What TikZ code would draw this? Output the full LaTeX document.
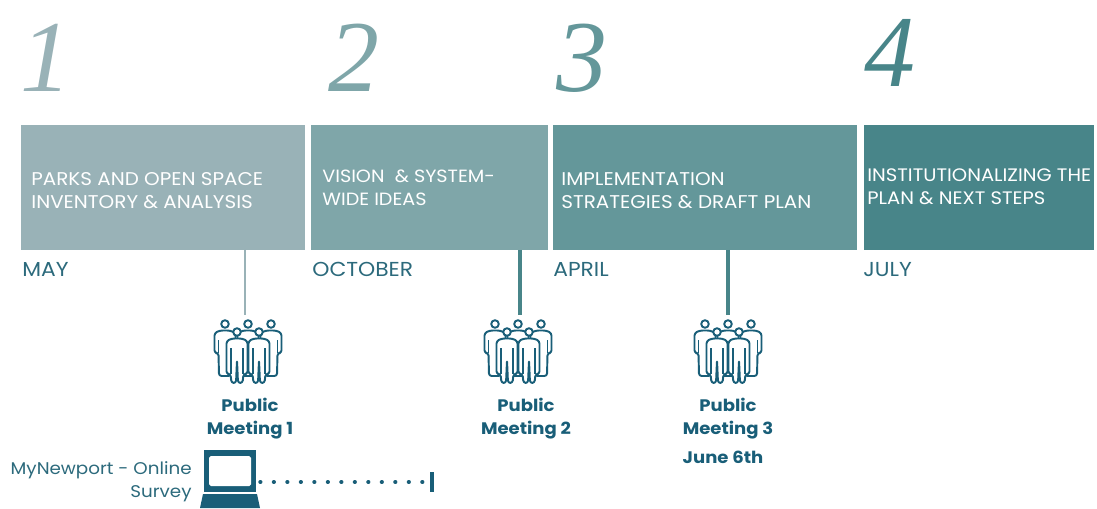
\documentclass[tikz,border=0pt]{standalone}
\usepackage{fontspec}
\setmainfont{Poppins}[FakeStretch=1.08]
\newfontfamily\numfont{Liberation Serif}
\definecolor{stageA}{HTML}{99B2B7}
\definecolor{stageB}{HTML}{7FA6A9}
\definecolor{stageC}{HTML}{64979A}
\definecolor{stageD}{HTML}{488589}
\definecolor{inkBlue}{HTML}{195E78}
\definecolor{monthBlue}{HTML}{2C6A7C}
\tikzset{
	stagebox/.style={rectangle, anchor=north west, inner sep=0pt, outer sep=0pt, minimum height=2.5cm},
	stagelabel/.style={anchor=west, inner sep=0pt, align=left, text=white, font=\fontsize{10.5}{13.1}\selectfont},
	stagenum/.style={anchor=base west, inner sep=0pt, font=\numfont\itshape\fontsize{58}{58}\selectfont},
	monthlabel/.style={anchor=base west, inner sep=0pt, text=monthBlue, font=\fontsize{11.5}{13}\selectfont},
	meetinglabel/.style={anchor=center, inner sep=0pt, align=center, text=inkBlue, font=\bfseries\fontsize{9.5}{13.1}\selectfont},
	meetingline/.style={draw=stageD, line width=2.3pt},
	iconline/.style={draw=inkBlue, line width=1.1pt, line join=round, fill=white},
	frontperson/.pic={
		\path[iconline] (0,0) circle (3.8);
		\path[iconline, rounded corners=1.5pt] (-5,6.5) -- (5,6.5) -- (10.5,9) -- (10.5,42) -- (6.5,42) -- (5.5,51) -- (1,51) -- (0,28) -- (-1,51) -- (-5.5,51) -- (-6.5,42) -- (-10.5,42) -- (-10.5,9) -- cycle;
		\draw[iconline] (-6,16) -- (-6,42) (6,16) -- (6,42);
	},
	backperson/.pic={
		\path[iconline] (0,0) circle (3.8);
		\path[iconline, rounded corners=1.5pt] (-5,6.5) -- (5,6.5) -- (10.5,9) -- (10.5,29) -- (6.5,29) -- (6,52) -- (-6,52) -- (-6.5,29) -- (-10.5,29) -- (-10.5,9) -- cycle;
		\draw[iconline] (-6.5,16) -- (-6.5,29) (6.5,16) -- (6.5,29);
	},
	meetingicon/.pic={
		\pic at (-23,0) {backperson};
		\pic at (23,0) {backperson};
		\pic at (0,0) {backperson};
		\pic at (-11,8) {frontperson};
		\pic at (11,8) {frontperson};
	}
}
\begin{document}
\begin{tikzpicture}[x=0.02cm, y=-0.02cm]
\useasboundingbox (0,0) rectangle (1097,508);

	% stages
	\node[stagebox, fill=stageA, minimum width=5.68cm](box1) at (21,125){};
	\node[stagebox, fill=stageB, minimum width=4.74cm](box2) at (311,125){};
	\node[stagebox, fill=stageC, minimum width=6.08cm](box3) at (553,125){};
	\node[stagebox, fill=stageD, minimum width=4.6cm](box4) at (864,125){};

	\node[stagelabel](box1Label) at (31,191){PARKS AND OPEN SPACE\\INVENTORY \& ANALYSIS};
	\node[stagelabel, font=\fontsize{10.1}{13.1}\selectfont](box2Label) at (322,188){VISION\ \ \& SYSTEM-\\WIDE IDEAS};
	\node[stagelabel](box3Label) at (561,191){IMPLEMENTATION\\STRATEGIES \& DRAFT PLAN};
	\node[stagelabel, font=\fontsize{10.3}{13.1}\selectfont](box4Label) at (867,187){INSTITUTIONALIZING THE\\PLAN \& NEXT STEPS};

	\node[stagenum, text=stageA](num1) at (20,91){1};
	\node[stagenum, text=stageB](num2) at (328,91){2};
	\node[stagenum, text=stageC](num3) at (556,91){3};
	\node[stagenum, text=stageD](num4) at (864,86){4};

	\node[monthlabel](month1) at (22,276){MAY};
	\node[monthlabel](month2) at (312,276){OCTOBER};
	\node[monthlabel](month3) at (553,276){APRIL};
	\node[monthlabel](month4) at (863,276){JULY};

	% meetings
	\coordinate(meet1Top) at (245,315);
	\coordinate(meet2Top) at (520,315);
	\coordinate(meet3Top) at (728,315);
	\draw[draw=stageD, double=stageA, double distance=0.6pt, line width=0.5pt] (box1.south -| meet1Top) -- (meet1Top);
	\draw[meetingline] (box2.south -| meet2Top) -- (meet2Top);
	\draw[meetingline] (box3.south -| meet3Top) -- (meet3Top);

	\pic at (248,324) {meetingicon};
	\pic at (518,324) {meetingicon};
	\pic at (728,324) {meetingicon};

	\node[meetinglabel](meet1Label) at (250,419){Public\\Meeting 1};
	\node[meetinglabel](meet2Label) at (526,419){Public\\Meeting 2};
	\node[meetinglabel](meet3Label) at (728,419){Public\\Meeting 3};
	\node[meetinglabel](meet3Date) at (723,457){June 6th};

	% survey
	\node[anchor=east, inner sep=0pt, align=right, text=monthBlue, font=\fontsize{9.65}{13.1}\selectfont](surveyLabel) at (192,482){MyNewport - Online\\Survey};
	\node[rectangle, fill=inkBlue, inner sep=0pt, minimum width=1.04cm, minimum height=0.84cm](laptop) at (230,471){};
	\node[rectangle, fill=white, rounded corners=1pt, inner sep=0pt, minimum width=0.84cm, minimum height=0.6cm](laptopScreen) at (laptop.center){};
	\fill[inkBlue] (203,494) -- (257,494) -- (260,508) -- (200,508) -- cycle;
	\coordinate(surveyStart) at (260.3,482);
	\coordinate(surveyEnd) at (432,482);
	\draw[inkBlue, line width=2.3pt, line cap=round, dash pattern=on 0.1pt off 7.58pt] (surveyStart) -- (surveyEnd);
	\draw[inkBlue, line width=2.2pt] ([yshift=5.7pt]surveyEnd) -- ([yshift=-5.7pt]surveyEnd);
\end{tikzpicture}
\end{document}
